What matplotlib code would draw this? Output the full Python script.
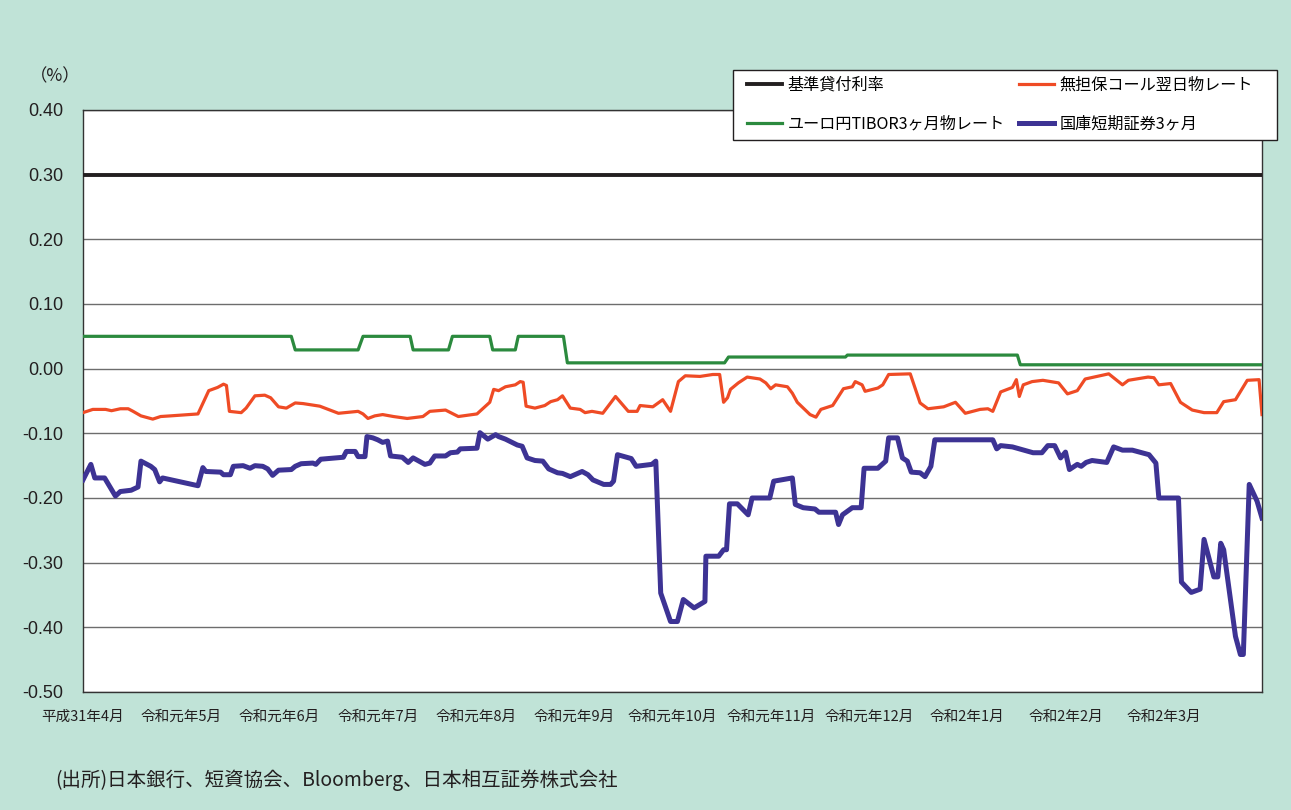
import matplotlib as mpl
mpl.use('Agg')
import matplotlib.pyplot as plt
from matplotlib.patches import Rectangle

plt.rcParams['font.family'] = ['Noto Sans CJK JP', 'DejaVu Sans']

# x = month index from 平成31年4月 start (0) to end of 令和2年3月 (12)
month_labels = ['平成31年4月', '令和元年5月', '令和元年6月', '令和元年7月', '令和元年8月',
                '令和元年9月', '令和元年10月', '令和元年11月', '令和元年12月',
                '令和2年1月', '令和2年2月', '令和2年3月']
yticks = [0.40, 0.30, 0.20, 0.10, 0.00, -0.10, -0.20, -0.30, -0.40, -0.50]

# 基準貸付利率
base_x = [0, 12]
base_y = [0.30, 0.30]

# ユーロ円TIBOR3ヶ月物レート
tibor_x = [0, 2.12, 2.16, 2.80, 2.85, 3.33, 3.36, 3.72, 3.76, 4.14, 4.17, 4.40, 4.43,
           4.89, 4.93, 6.53, 6.57, 7.76, 7.78, 9.51, 9.54, 12.0]
tibor_y = [0.050, 0.050, 0.029, 0.029, 0.050, 0.050, 0.029, 0.029, 0.050, 0.050, 0.029,
           0.029, 0.050, 0.050, 0.009, 0.009, 0.018, 0.018, 0.021, 0.021, 0.006, 0.006]

# 無担保コール翌日物レート
call_x = [0.00, 0.10, 0.23, 0.29, 0.38, 0.46, 0.51, 0.59, 0.71, 0.79, 0.89, 1.17, 1.28,
          1.37, 1.43, 1.46, 1.49, 1.61, 1.66, 1.75, 1.85, 1.91, 1.99, 2.07, 2.16, 2.24,
          2.41, 2.60, 2.80, 2.85, 2.90, 2.97, 3.05, 3.16, 3.30, 3.46, 3.53, 3.69, 3.82,
          4.01, 4.14, 4.18, 4.23, 4.30, 4.40, 4.45, 4.48, 4.51, 4.60, 4.70, 4.76, 4.83,
          4.88, 4.96, 5.06, 5.11, 5.18, 5.29, 5.37, 5.42, 5.55, 5.64, 5.67, 5.80, 5.90,
          5.98, 6.06, 6.13, 6.28, 6.41, 6.48, 6.52, 6.56, 6.59, 6.67, 6.76, 6.89, 6.95,
          7.00, 7.05, 7.17, 7.22, 7.27, 7.40, 7.46, 7.51, 7.63, 7.74, 7.83, 7.86, 7.93,
          7.96, 8.09, 8.14, 8.20, 8.42, 8.52, 8.60, 8.76, 8.88, 8.98, 9.13, 9.21, 9.26,
          9.34, 9.46, 9.50, 9.53, 9.57, 9.66, 9.77, 9.93, 10.02, 10.12, 10.20, 10.44,
          10.58, 10.64, 10.84, 10.90, 10.95, 11.07, 11.17, 11.29, 11.41, 11.54, 11.61,
          11.73, 11.85, 11.97, 12.00]
call_y = [-0.068, -0.063, -0.063, -0.065, -0.062, -0.062, -0.066, -0.073, -0.078, -0.074,
          -0.073, -0.070, -0.034, -0.029, -0.024, -0.026, -0.066, -0.068, -0.061, -0.042,
          -0.041, -0.045, -0.059, -0.061, -0.053, -0.054, -0.058, -0.069, -0.066, -0.070,
          -0.077, -0.073, -0.071, -0.074, -0.077, -0.074, -0.066, -0.064, -0.074, -0.070,
          -0.052, -0.032, -0.034, -0.028, -0.025, -0.020, -0.021, -0.058, -0.061, -0.057,
          -0.051, -0.048, -0.042, -0.061, -0.063, -0.068, -0.066, -0.069, -0.053, -0.043,
          -0.066, -0.066, -0.057, -0.059, -0.048, -0.066, -0.020, -0.011, -0.012, -0.009,
          -0.009, -0.052, -0.045, -0.032, -0.022, -0.013, -0.016, -0.022, -0.031, -0.025,
          -0.028, -0.038, -0.052, -0.071, -0.075, -0.063, -0.057, -0.031, -0.028, -0.020,
          -0.025, -0.035, -0.030, -0.025, -0.009, -0.008, -0.053, -0.062, -0.059, -0.052,
          -0.069, -0.063, -0.062, -0.066, -0.036, -0.029, -0.017, -0.043, -0.025, -0.020,
          -0.018, -0.022, -0.039, -0.034, -0.016, -0.008, -0.025, -0.018, -0.013, -0.014,
          -0.025, -0.023, -0.052, -0.064, -0.068, -0.068, -0.051, -0.048, -0.018, -0.017,
          -0.071]

# 国庫短期証券3ヶ月
tbill_x = [0.00, 0.08, 0.12, 0.22, 0.33, 0.38, 0.49, 0.56, 0.59, 0.69, 0.73, 0.78, 0.81,
           1.17, 1.22, 1.25, 1.40, 1.43, 1.50, 1.53, 1.63, 1.70, 1.75, 1.83, 1.88, 1.93,
           1.99, 2.12, 2.16, 2.22, 2.34, 2.37, 2.42, 2.58, 2.65, 2.68, 2.77, 2.80, 2.87,
           2.89, 2.95, 3.00, 3.05, 3.10, 3.13, 3.25, 3.31, 3.36, 3.48, 3.53, 3.58, 3.69,
           3.74, 3.81, 3.84, 4.01, 4.04, 4.12, 4.20, 4.23, 4.30, 4.42, 4.47, 4.52, 4.60,
           4.68, 4.74, 4.83, 4.88, 4.96, 5.08, 5.14, 5.19, 5.30, 5.37, 5.40, 5.44, 5.58,
           5.63, 5.79, 5.83, 5.88, 5.98, 6.05, 6.11, 6.22, 6.33, 6.34, 6.47, 6.52, 6.55,
           6.58, 6.66, 6.77, 6.81, 6.99, 7.03, 7.22, 7.25, 7.33, 7.45, 7.49, 7.66, 7.69,
           7.73, 7.83, 7.92, 7.95, 8.09, 8.17, 8.20, 8.29, 8.34, 8.39, 8.43, 8.52, 8.57,
           8.63, 8.67, 9.26, 9.30, 9.34, 9.46, 9.67, 9.76, 9.82, 9.89, 9.95, 10.00, 10.04,
           10.12, 10.16, 10.21, 10.27, 10.42, 10.49, 10.58, 10.68, 10.85, 10.92, 10.95,
           11.15, 11.18, 11.28, 11.37, 11.41, 11.51, 11.55, 11.58, 11.61, 11.73, 11.78,
           11.81, 11.87, 11.95, 12.00]
tbill_y = [-0.172, -0.148, -0.169, -0.169, -0.197, -0.190, -0.188, -0.183, -0.143, -0.151,
           -0.156, -0.175, -0.169, -0.181, -0.153, -0.159, -0.160, -0.164, -0.164, -0.151,
           -0.150, -0.154, -0.150, -0.151, -0.155, -0.165, -0.157, -0.156, -0.151, -0.147,
           -0.146, -0.148, -0.140, -0.138, -0.137, -0.128, -0.128, -0.136, -0.136, -0.105,
           -0.107, -0.110, -0.114, -0.112, -0.135, -0.137, -0.145, -0.138, -0.148, -0.146,
           -0.135, -0.135, -0.130, -0.129, -0.124, -0.123, -0.099, -0.109, -0.102, -0.105,
           -0.109, -0.118, -0.120, -0.138, -0.142, -0.143, -0.155, -0.161, -0.162, -0.167,
           -0.159, -0.164, -0.172, -0.179, -0.179, -0.174, -0.133, -0.139, -0.151, -0.148,
           -0.143, -0.347, -0.391, -0.391, -0.357, -0.370, -0.360, -0.290, -0.290, -0.280,
           -0.280, -0.209, -0.209, -0.226, -0.200, -0.200, -0.174, -0.169, -0.210, -0.215,
           -0.217, -0.222, -0.222, -0.241, -0.226, -0.215, -0.215, -0.154, -0.154, -0.143,
           -0.107, -0.107, -0.138, -0.143, -0.160, -0.161, -0.167, -0.151, -0.110, -0.110,
           -0.124, -0.119, -0.121, -0.130, -0.130, -0.119, -0.119, -0.138, -0.129, -0.156,
           -0.148, -0.151, -0.145, -0.142, -0.145, -0.121, -0.126, -0.126, -0.133, -0.146,
           -0.200, -0.200, -0.330, -0.346, -0.341, -0.264, -0.322, -0.322, -0.270, -0.280,
           -0.414, -0.442, -0.442, -0.179, -0.205, -0.231]

W, H = 1291, 810
bg = '#c0e3d7'
fig = plt.figure(figsize=(W/100, H/100), dpi=100, facecolor=bg)
ax = fig.add_axes([83/W, 1 - 692/H, (1262-83)/W, (692-110)/H])
ax.set_facecolor('white')

for v in yticks:
    if v != 0.30:
        ax.axhline(v, color='#6d6d6d', lw=1.0, zorder=1)

l1, = ax.plot(base_x, base_y, color='#231f20', lw=2.8, zorder=3)
l3, = ax.plot(tibor_x, tibor_y, color='#2b8a3e', lw=2.3, zorder=3)
l2, = ax.plot(call_x, call_y, color='#ef4b25', lw=2.3, zorder=4)
l4, = ax.plot(tbill_x, tbill_y, color='#3d3394', lw=3.6, zorder=5)

ax.set_xlim(0, 12)
ax.set_ylim(-0.50, 0.40)
ax.set_yticks(yticks)
ax.set_yticklabels(['%.2f' % v for v in yticks], family='Liberation Sans', fontsize=13)
ax.set_xticks(range(12))
ax.set_xticklabels(month_labels, fontsize=10.5)
ax.tick_params(axis='both', length=0, colors='#231f20')
ax.tick_params(axis='y', pad=14)
ax.tick_params(axis='x', pad=13)
for s in ax.spines.values():
    s.set_color('#333333')
    s.set_linewidth(1.0)

fig.text(30/W, 1 - 76/H, '（%）', fontsize=12.5, va='center', ha='left', color='#231f20')
fig.text(55/W, 1 - 780/H, '(出所)日本銀行、短資協会、Bloomberg、日本相互証券株式会社',
         fontsize=14, va='center', ha='left', color='#231f20')

# legend box
fig.patches.append(Rectangle((733/W, 1 - 140/H), (1277-733)/W, 70/H, transform=fig.transFigure,
                             facecolor='white', edgecolor='#231f20', lw=1.0, zorder=5))
leg = fig.legend([l1, l3, l2, l4],
                 ['基準貸付利率', 'ユーロ円TIBOR3ヶ月物レート', '無担保コール翌日物レート', '国庫短期証券3ヶ月'],
                 ncols=2, loc='upper left', bbox_to_anchor=(747/W, 1 - 77/H),
                 fontsize=11.6, frameon=False,
                 handlelength=2.2, handletextpad=0.3, columnspacing=0.9,
                 borderpad=0, labelspacing=1.35, borderaxespad=0)
leg.set_zorder(6)

fig.savefig('out.png', dpi=100, facecolor=bg)
